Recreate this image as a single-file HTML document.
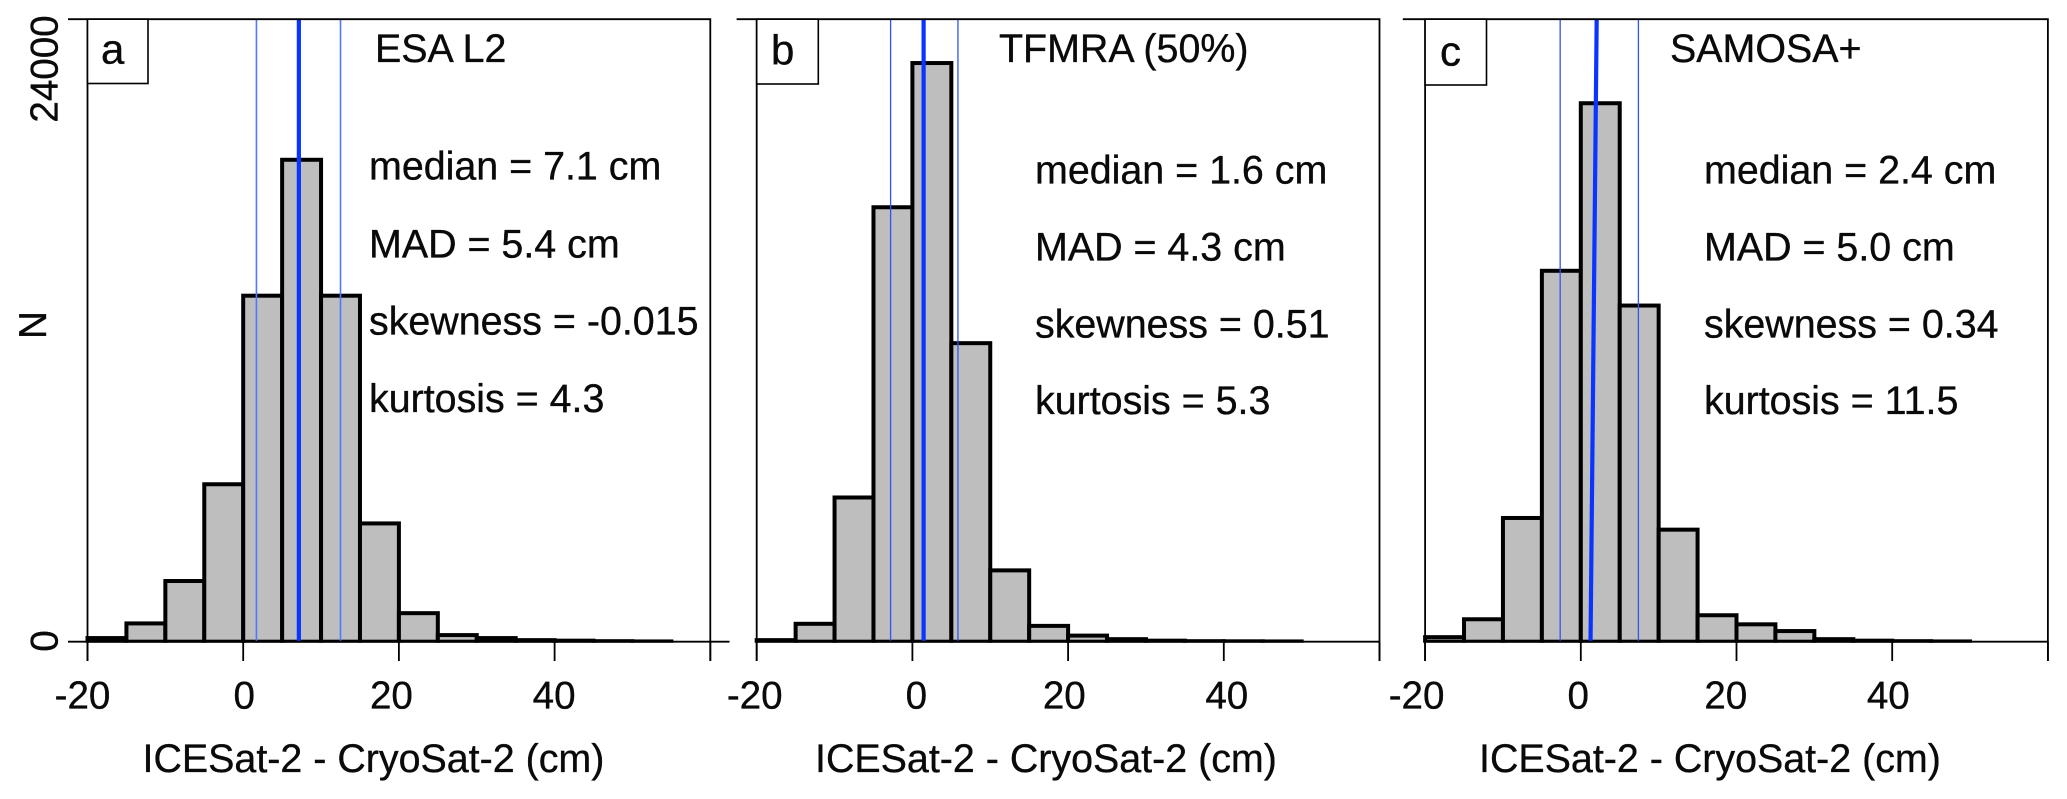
<!DOCTYPE html>
<html lang="en">
<head>
<meta charset="utf-8">
<title>ICESat-2 minus CryoSat-2 histograms</title>
<style>
  html, body { margin: 0; padding: 0; background: #fff; }
  svg { display: block; }
  text { font-family: "Liberation Sans", Arial, sans-serif; font-size: 39.4px; fill: #0a0a0a; stroke: #0a0a0a; stroke-width: 0.35px; }
  .tick { font-size: 38.6px; }
  .letter { font-size: 42px; }
</style>
</head>
<body>
<svg id="figure" width="2067" height="799" viewBox="0 0 2067 799" xmlns="http://www.w3.org/2000/svg">
  <rect x="0" y="0" width="2067" height="799" fill="#ffffff"/>

  <g id="panel-a"></g>
  <g id="panel-b"></g>
  <g id="panel-c"></g>

  <text class="tick" transform="translate(57.5 69) rotate(-90)" text-anchor="middle">24000</text>
  <text class="tick" transform="translate(57.5 641) rotate(-90)" text-anchor="middle">0</text>
  <text class="tick" transform="translate(46 325) rotate(-90)" text-anchor="middle">N</text>

  <text class="letter" x="101" y="63.5">a</text>
  <text x="375" y="62">ESA L2</text>
  <text x="369" y="179.5">median = 7.1 cm</text>
  <text x="369" y="257.5">MAD = 5.4 cm</text>
  <text x="369" y="334.5">skewness = -0.015</text>
  <text x="369" y="412">kurtosis = 4.3</text>
  <text x="142.5" y="772">ICESat-2 - CryoSat-2 (cm)</text>

  <text class="letter" x="771" y="64.5">b</text>
  <text x="999" y="62">TFMRA (50%)</text>
  <text x="1035" y="183.5">median = 1.6 cm</text>
  <text x="1035" y="260.5">MAD = 4.3 cm</text>
  <text x="1035" y="337.5">skewness = 0.51</text>
  <text x="1035" y="414">kurtosis = 5.3</text>
  <text x="815" y="772">ICESat-2 - CryoSat-2 (cm)</text>

  <text class="letter" x="1440" y="65.5">c</text>
  <text x="1670" y="62">SAMOSA+</text>
  <text x="1704" y="183.5">median = 2.4 cm</text>
  <text x="1704" y="260.5">MAD = 5.0 cm</text>
  <text x="1704" y="337.5">skewness = 0.34</text>
  <text x="1704" y="414">kurtosis = 11.5</text>
  <text x="1479" y="772">ICESat-2 - CryoSat-2 (cm)</text>
</svg>

<script>
// ---- data ----
const binEdgesA = [-20,-15,-10,-5,0,5,10,15,20,25,30,35,40,45,50,55];
const binEdgesB = [-20,-15,-10,-5,0,5,10,15,20,25,30,35,40,45,50];
const binEdgesC = [-20,-15,-10,-5,0,5,10,15,20,25,30,35,40,45,50];
const countsA = [140,705,2340,6070,13340,18580,13340,4560,1100,255,140,60,40,20,10];
const countsB = [60,690,5560,16750,22310,11510,2750,610,235,98,40,20,15,10];
const countsC = [175,865,4770,14300,20760,12960,4320,1020,670,410,98,40,20,10];
const medianBottomA = 7.15, medianTopA = 7.15;
const medianBottomB = 1.44, medianTopB = 1.44;
const medianBottomC = 1.25, medianTopC = 2.04;
const spreadA = [1.7, 12.5];
const spreadB = [-2.8, 5.85];
const spreadC = [-2.65, 7.4];
const xTickValues = [-20,0,20,40,60];
const xTickLabels = ["-20","0","20","40"];
const yTopValue = 24000;

// ---- layout ----
const SVGNS = "http://www.w3.org/2000/svg";
const plotTop = 19.2, plotBottom = 641.7, tickBottom = 661, pxPerUnit = 7.785;
function yScale(v) { return plotBottom - (v / yTopValue) * (plotBottom - plotTop); }
function makeXScale(left) { return function (v) { return left + (v + 20) * pxPerUnit; }; }
function svgEl(tag, attrs, parent) {
  const n = document.createElementNS(SVGNS, tag);
  for (const k in attrs) n.setAttribute(k, attrs[k]);
  parent.appendChild(n);
  return n;
}
function drawPanel(cfg) {
  const g = document.getElementById(cfg.id);
  const x = makeXScale(cfg.left);
  const right = x(60);

  const clip = svgEl("clipPath", { id: cfg.id + "-clip" }, g);
  svgEl("rect", { x: cfg.left - 5, y: plotTop - 5, width: right - cfg.left + 10, height: plotBottom - plotTop + 6 }, clip);

  const bars = svgEl("g", { "clip-path": "url(#" + cfg.id + "-clip)" }, g);
  
  
  cfg.counts.forEach(function (c, i) {
    const x0 = x(cfg.edges[i]), x1 = x(cfg.edges[i + 1]), yy = yScale(c);
    const bar = svgEl("rect", {
      x: x0, y: yy, width: x1 - x0, height: plotBottom - yy,
      fill: "#bebebe", stroke: "#000", "stroke-width": 4
    }, bars);
    
    
  });

  cfg.spread.forEach(function (v) {
    const thin = svgEl("line", { x1: x(v), x2: x(v), y1: plotTop, y2: plotBottom, stroke: cfg.thinColor, "stroke-width": cfg.thinWidth }, g);
    
    
  });
  const med = svgEl("line", { x1: x(cfg.medianBottom), x2: x(cfg.medianTop), y1: plotBottom, y2: plotTop, stroke: "#0a34ff", "stroke-width": 4.2 }, g);
  
  

  const frame = svgEl("path", {
    d: "M" + cfg.topTickStart + " " + plotTop + "H" + right + "V" + tickBottom +
       "M" + cfg.left + " " + plotTop + "V" + tickBottom +
       "M" + cfg.baseStart + " " + plotBottom + "H" + cfg.baseEnd,
    fill: "none", stroke: "#000", "stroke-width": 1.8
  }, g);
  
  

  const box = svgEl("rect", { x: cfg.left, y: plotTop, width: cfg.boxWidth, height: cfg.boxHeight, fill: "#fff", stroke: "#000", "stroke-width": 1.6 }, g);
  
  

  xTickValues.forEach(function (v) {
    const t = svgEl("line", { x1: x(v), x2: x(v), y1: plotBottom, y2: tickBottom, stroke: "#000", "stroke-width": 1.8 }, g);
    
    
  });
  xTickLabels.forEach(function (lab, i) {
    const t = svgEl("text", { x: x(xTickValues[i]) + cfg.labelShift[i], y: 708.5, "text-anchor": "middle", "class": "tick" }, g);
    t.textContent = lab;
    
    
  });
}

drawPanel({ id: "panel-a", left: 87.5, topTickStart: 68, baseStart: 68, baseEnd: 729.5, edges: binEdgesA, counts: countsA,
  medianBottom: medianBottomA, medianTop: medianTopA, spread: spreadA, thinColor: "#4d78ff", thinWidth: 1.6,
  boxWidth: 60.5, boxHeight: 64.3, labelShift: [-5, 1, -7.5, -0.5] });
drawPanel({ id: "panel-b", left: 756.7, topTickStart: 736.6, baseStart: 756.7, baseEnd: 1379.5, edges: binEdgesB, counts: countsB,
  medianBottom: medianBottomB, medianTop: medianTopB, spread: spreadB, thinColor: "#2f55f2", thinWidth: 1.3,
  boxWidth: 61.6, boxHeight: 64.8, labelShift: [-2, 4, -3.8, 3] });
drawPanel({ id: "panel-c", left: 1425.1, topTickStart: 1402.8, baseStart: 1425.1, baseEnd: 2047.8, edges: binEdgesC, counts: countsC,
  medianBottom: medianBottomC, medianTop: medianTopC, spread: spreadC, thinColor: "#2f55f2", thinWidth: 1.3,
  boxWidth: 61.4, boxHeight: 65.8, labelShift: [-8.5, -2.6, -10.7, -3.9] });
</script>
</body>
</html>
